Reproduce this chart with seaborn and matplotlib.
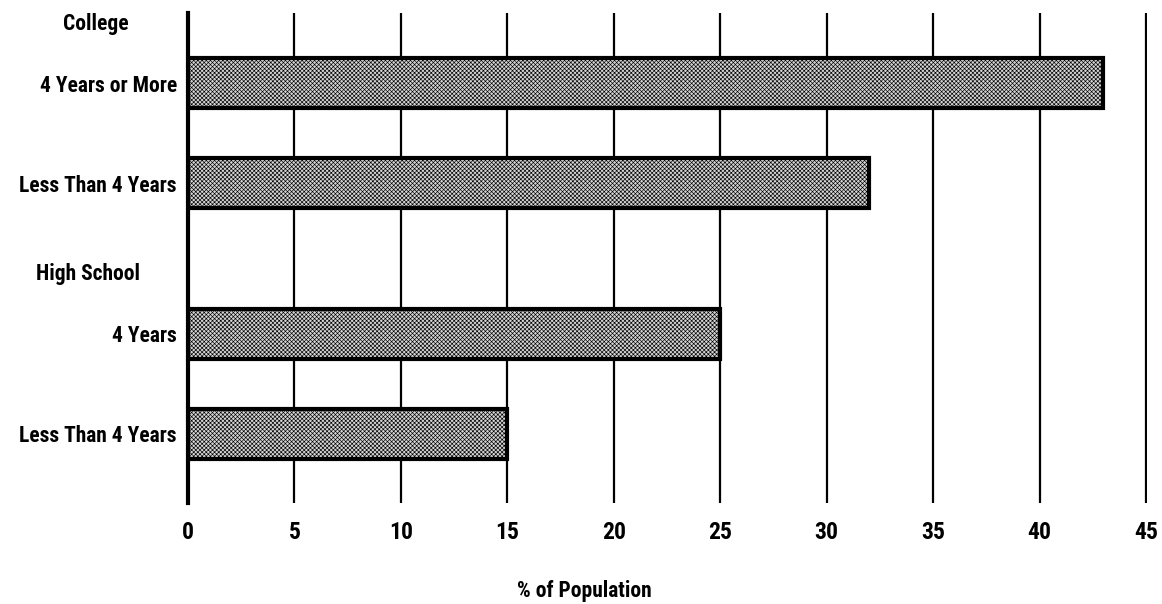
import matplotlib
matplotlib.use("Agg")
import matplotlib.pyplot as plt
import seaborn as sns
import pandas as pd

# data
groups = ["College", "College", "High School", "High School"]
labels = ["4 Years or More", "Less Than 4 Years", "4 Years", "Less Than 4 Years"]
values = [43, 32, 25, 15]
xticks = [0, 5, 10, 15, 20, 25, 30, 35, 40, 45]

sns.set_style("white")
plt.rcParams["font.family"] = ["Roboto Condensed", "Liberation Sans Narrow", "Roboto", "DejaVu Sans"]
plt.rcParams["font.weight"] = "bold"
plt.rcParams["text.color"] = "black"
plt.rcParams["xtick.color"] = "black"
plt.rcParams["ytick.color"] = "black"
plt.rcParams["axes.labelcolor"] = "black"
plt.rcParams["hatch.linewidth"] = 0.45

# half a row of extra space before each new group header
group_names = list(dict.fromkeys(groups))
pos = [i + 0.5 * group_names.index(g) for i, g in enumerate(groups)]
df = pd.DataFrame({"pos": pos, "value": values, "label": labels})

fig = plt.figure(figsize=(11.62, 6.04), dpi=100)
ax = fig.add_axes([0.1618, 0.1672, 0.8253, 0.8113])

sns.barplot(data=df, x="value", y="pos", orient="h", native_scale=True,
            width=0.5, color="#d4d4d4", edgecolor="black", linewidth=3,
            saturation=1, ax=ax)
for p in ax.patches:
    p.set_hatch("xxxxxxxx")

ax.set_xlim(0, 45.05)
ax.set_ylim(4.19, -0.70)
ax.set_axisbelow(True)
ax.grid(axis="x", color="black", linewidth=1.6)
ax.grid(axis="y", visible=False)

ax.set_xticks(xticks)
ax.set_xticklabels([str(t) for t in xticks], fontsize=17, fontweight="bold")
ax.set_yticks(pos)
ax.set_yticklabels(labels, fontsize=15.5, fontweight="bold")
ax.tick_params(axis="both", length=0)
ax.tick_params(axis="x", pad=13)
ax.tick_params(axis="y", pad=8)

for s in ["top", "right", "bottom"]:
    ax.spines[s].set_visible(False)
ax.spines["left"].set_linewidth(3)
ax.spines["left"].set_color("black")

# group headers
ytr = ax.get_yaxis_transform()
ax.text(-0.096, -0.53, "College", transform=ytr, ha="center", va="baseline",
        fontsize=15.5, fontweight="bold")
ax.text(-0.104, 1.96, "High School", transform=ytr, ha="center", va="baseline",
        fontsize=15.5, fontweight="bold")

ax.set_xlabel("% of Population", fontsize=15.5, fontweight="bold")
ax.xaxis.set_label_coords(0.413, -0.158)
ax.set_ylabel("")

fig.savefig("out.png", dpi=100)
